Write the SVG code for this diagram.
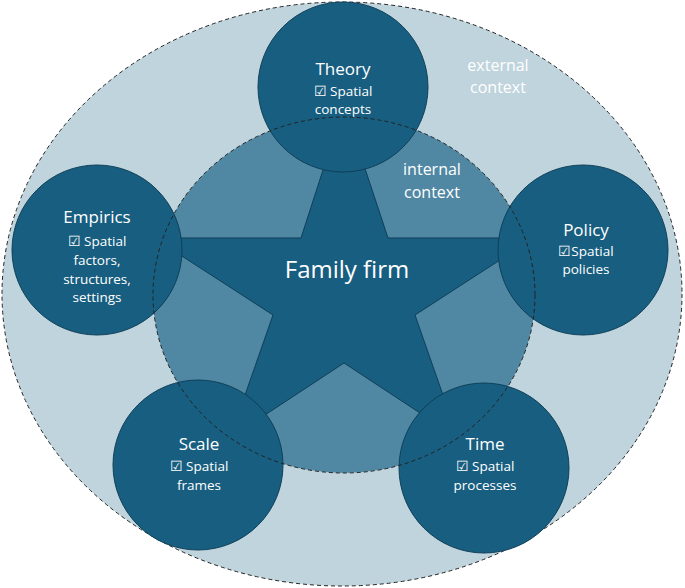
<svg xmlns="http://www.w3.org/2000/svg" width="685" height="588" viewBox="0 0 685 588">
<style>
.n{fill:#175e80;stroke:#0f3f57;stroke-width:1}
.t{font-family:"Open Sans",sans-serif;fill:#fff;text-anchor:middle}
.h{font-size:17px}
.s{font-size:13.5px}
</style>
<rect width="685" height="588" fill="#fff"/>
<g id="external"><ellipse cx="342" cy="294" rx="340" ry="292" fill="#bfd4dd" stroke="#222" stroke-dasharray="4,3"/>
<text class="t" x="498" y="71" font-size="16">external</text><text class="t" x="498" y="93" font-size="16">context</text></g>
<g id="internal"><ellipse cx="344" cy="295" rx="191" ry="178" fill="#5088a4"/></g>
<g id="star"><polygon points="344,105 388,238 534,238 415,315 458,438 344,363 230,438 273,315 154,238 301,238" fill="#175e80" stroke="#0f3f57"/>
<text class="t" x="347" y="278" font-size="24">Family firm</text></g>
<text class="t" x="432" y="175" font-size="16">internal</text><text class="t" x="432" y="198" font-size="16">context</text>
<g id="theory"><circle class="n" cx="343" cy="87" r="85"/><text class="t h" x="343" y="75">Theory</text><text class="t s" x="343" y="96">☑ Spatial</text><text class="t s" x="343" y="114">concepts</text></g>
<g id="empirics"><circle class="n" cx="97" cy="250" r="85"/><text class="t h" x="97" y="223">Empirics</text><text class="t s" x="97" y="246">☑ Spatial</text><text class="t s" x="97" y="265">factors,</text><text class="t s" x="97" y="284">structures,</text><text class="t s" x="97" y="302">settings</text></g>
<g id="policy"><circle class="n" cx="583" cy="250" r="85"/><text class="t h" x="586" y="236">Policy</text><text class="t s" x="586" y="256">☑Spatial</text><text class="t s" x="586" y="274">policies</text></g>
<g id="scale"><circle class="n" cx="198" cy="465" r="85"/><text class="t h" x="199" y="450">Scale</text><text class="t s" x="199" y="471">☑ Spatial</text><text class="t s" x="199" y="490">frames</text></g>
<g id="time"><circle class="n" cx="484" cy="468" r="85"/><text class="t h" x="485" y="450">Time</text><text class="t s" x="485" y="471">☑ Spatial</text><text class="t s" x="485" y="490">processes</text></g>
<g id="connectors"><ellipse cx="344" cy="295" rx="191" ry="178" fill="none" stroke="#222" stroke-dasharray="4,3"/></g>
</svg>
